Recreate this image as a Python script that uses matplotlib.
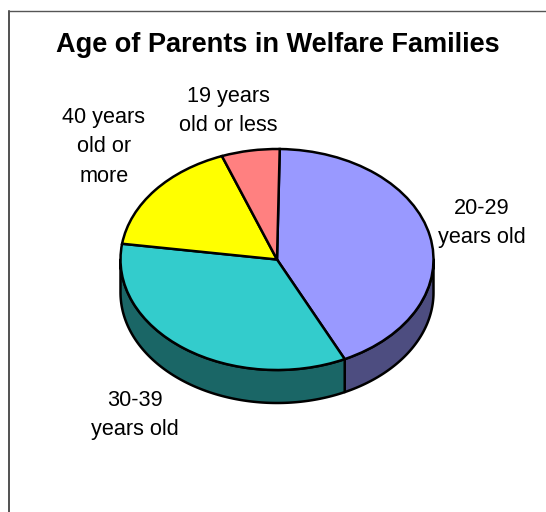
import numpy as np
import matplotlib
matplotlib.use('Agg')
import matplotlib.pyplot as plt
from matplotlib.patches import Polygon
from matplotlib.transforms import Affine2D

plt.rcParams['font.family'] = ['Liberation Sans', 'DejaVu Sans']

# 百分比，从顶部开始顺时针
categories = ['20-29\nyears old', '30-39\nyears old', '40 years\nold or\nmore', '19 years\nold or less']
shares = [42.6, 34.4, 17, 6]
top_colors = ['#9999FF', '#33CCCC', '#FFFF00', '#FF8080']
side_colors = ['#4D4D80', '#1A6666', '#808000', '#804040']
label_pos = [(482, 223), (135, 415), (104, 147), (228, 111)]

# 饼图的几何参数（像素）
cx, cy = 277, 259.5
rx, ry = 156.5, 110.5
depth = 33
start_angle = 89

fig = plt.figure(figsize=(5.46, 5.12), dpi=100)
ax = fig.add_axes([0, 0, 1, 1])
ax.set_xlim(0, 546)
ax.set_ylim(512, 0)
ax.axis('off')

# 图框只有上边和左边
ax.plot([8.5, 8.5], [512, 10.5], color='#222222', lw=1.1)
ax.plot([8.5, 546], [10.5, 10.5], color='#555555', lw=1.0)

ax.text(278, 45, 'Age of Parents in Welfare Families', ha='center', va='center',
        fontsize=19.5, fontweight='bold', color='black')

fractions = np.array(shares) / sum(shares)
bounds = start_angle - 360 * np.concatenate([[0], np.cumsum(fractions)])


def rim(a0, a1, n=120):
    t = np.radians(np.linspace(a0, a1, n))
    # y 轴朝下，所以这里取负号
    return cx + rx * np.cos(t), cy - ry * np.sin(t)


# 侧面：只画朝前的部分（椭圆下半圈）
for i in range(len(shares)):
    a0, a1 = bounds[i], bounds[i + 1]
    lo, hi = max(a1, -180), min(a0, 0)
    if lo >= hi:
        continue
    x, y = rim(hi, lo)
    pts = np.vstack([np.c_[x, y], np.c_[x[::-1], y[::-1] + depth]])
    ax.add_patch(Polygon(pts, closed=True, facecolor=side_colors[i], edgecolor='black',
                         lw=1.8, joinstyle='round', zorder=2))

# 顶面用 pie 画，再压扁成椭圆
wedges, _ = ax.pie(shares, colors=top_colors, startangle=start_angle, counterclock=False,
                   radius=1, frame=False,
                   wedgeprops=dict(edgecolor='black', linewidth=1.8))
squash = Affine2D().scale(rx, -ry).translate(cx, cy) + ax.transData
for w in wedges:
    w.set_transform(squash)
    w.set_zorder(3)
ax.set_xlim(0, 546)
ax.set_ylim(512, 0)
ax.set_aspect('auto')

for label, (lx, ly) in zip(categories, label_pos):
    ax.text(lx, ly, label, ha='center', va='center', fontsize=15.6, color='black',
            linespacing=1.5, zorder=5)

fig.savefig('out.png', dpi=100, facecolor='white')
